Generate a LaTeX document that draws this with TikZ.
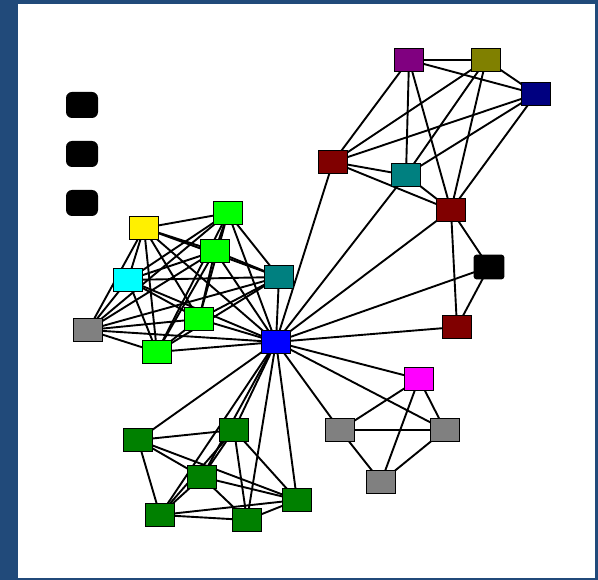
\documentclass[tikz,border=0pt]{standalone}
\usetikzlibrary{backgrounds}
\pgfdeclarelayer{edgelayer}
\pgfsetlayers{background,edgelayer,main}

\definecolor{frameblue}{RGB}{33,74,122}
\definecolor{cyellow}{RGB}{255,240,0}
\definecolor{clime}{RGB}{0,255,0}
\definecolor{ccyan}{RGB}{0,255,255}
\definecolor{cteal}{RGB}{0,128,128}
\definecolor{cgray}{RGB}{128,128,128}
\definecolor{cblue}{RGB}{0,0,255}
\definecolor{cpurple}{RGB}{128,0,128}
\definecolor{colive}{RGB}{128,128,0}
\definecolor{cnavy}{RGB}{0,0,128}
\definecolor{cmaroon}{RGB}{128,0,0}
\definecolor{cmagenta}{RGB}{255,0,255}
\definecolor{cgreen}{RGB}{0,128,0}

\tikzset{
  vtx/.style={rectangle, draw=black, line width=1.6pt, minimum width=29pt,
              minimum height=23pt, inner sep=0pt, fill=#1},
  isolated/.style={rectangle, rounded corners=6pt, fill=black,
                   minimum width=32pt, minimum height=26pt, inner sep=0pt},
  link/.style={draw=black, line width=1.9pt}
}

\begin{document}
\begin{tikzpicture}[x=1pt,y=-1pt]
\useasboundingbox (0,0) rectangle (598,580);
\begin{scope}[on background layer]
  \fill[frameblue] (0,0) rectangle (598,580);
  \fill[white] (18,4) rectangle (595,578);
\end{scope}

% isolated vertices
\node[isolated] (k1) at (82,105) {};
\node[isolated] (k2) at (82,154) {};
\node[isolated] (k3) at (82,203) {};

% hub
\node[vtx=cblue] (B) at (276,342) {};

% left cluster
\node[vtx=cyellow] (Y)  at (144,228) {};
\node[vtx=clime]   (GT) at (228,213) {};
\node[vtx=clime]   (GM) at (215,251) {};
\node[vtx=ccyan]   (C)  at (128,280) {};
\node[vtx=cteal]   (T)  at (279,277) {};
\node[vtx=cgray]   (G)  at (88,330) {};
\node[vtx=clime]   (G7) at (199,319) {};
\node[vtx=clime]   (GL) at (157,352) {};

% upper right cluster
\node[vtx=cpurple] (P)  at (409,60) {};
\node[vtx=colive]  (O)  at (486,60) {};
\node[vtx=cnavy]   (N)  at (536,94) {};
\node[vtx=cmaroon] (R1) at (333,162) {};
\node[vtx=cteal]   (T2) at (406,175) {};
\node[vtx=cmaroon] (R2) at (451,210) {};
\node[vtx=black, rounded corners=2pt] (K) at (489,267) {};
\node[vtx=cmaroon] (R3) at (457,327) {};

% lower right cluster
\node[vtx=cmagenta] (M)  at (419,379) {};
\node[vtx=cgray]    (SL) at (340,430) {};
\node[vtx=cgray]    (SR) at (445,430) {};
\node[vtx=cgray]    (SB) at (381,482) {};

% bottom cluster
\node[vtx=cgreen] (g1) at (138,440) {};
\node[vtx=cgreen] (g2) at (234,430) {};
\node[vtx=cgreen] (g3) at (202,477) {};
\node[vtx=cgreen] (g4) at (160,515) {};
\node[vtx=cgreen] (g5) at (247,520) {};
\node[vtx=cgreen] (g6) at (297,500) {};

\begin{pgfonlayer}{edgelayer}
  % left cluster: every pair linked, plus the hub
  \foreach \a/\b in {Y/GT,Y/GM,Y/C,Y/T,Y/G,Y/G7,Y/GL,Y/B,
                     GT/GM,GT/C,GT/T,GT/G,GT/G7,GT/GL,GT/B,
                     GM/C,GM/T,GM/G,GM/G7,GM/GL,GM/B,
                     C/T,C/G,C/G7,C/GL,C/B,
                     T/G,T/G7,T/GL,T/B,
                     G/G7,G/GL,G/B,
                     G7/GL,G7/B,GL/B}
    \draw[link] (\a.center) -- (\b.center);
  % upper right cluster
  \foreach \a/\b in {P/O,P/N,O/N,P/R1,P/T2,P/R2,O/R1,O/T2,O/R2,
                     N/R1,N/T2,N/R2,R1/T2,R1/R2,T2/R2,R2/K,R2/R3,K/R3,
                     B/R1,B/T2,B/R2,B/K,B/R3}
    \draw[link] (\a.center) -- (\b.center);
  % lower right cluster
  \foreach \a/\b in {B/M,B/SL,B/SR,M/SL,M/SR,M/SB,SL/SR,SL/SB,SR/SB}
    \draw[link] (\a.center) -- (\b.center);
  % bottom cluster
  \foreach \a/\b in {g1/g2,g1/g3,g1/g4,g1/g6,g2/g3,g2/g4,g2/g5,g2/g6,
                     g3/g4,g3/g5,g3/g6,g4/g5,g4/g6,g5/g6,
                     B/g1,B/g2,B/g3,B/g4,B/g5,B/g6}
    \draw[link] (\a.center) -- (\b.center);
\end{pgfonlayer}
\end{tikzpicture}
\end{document}
